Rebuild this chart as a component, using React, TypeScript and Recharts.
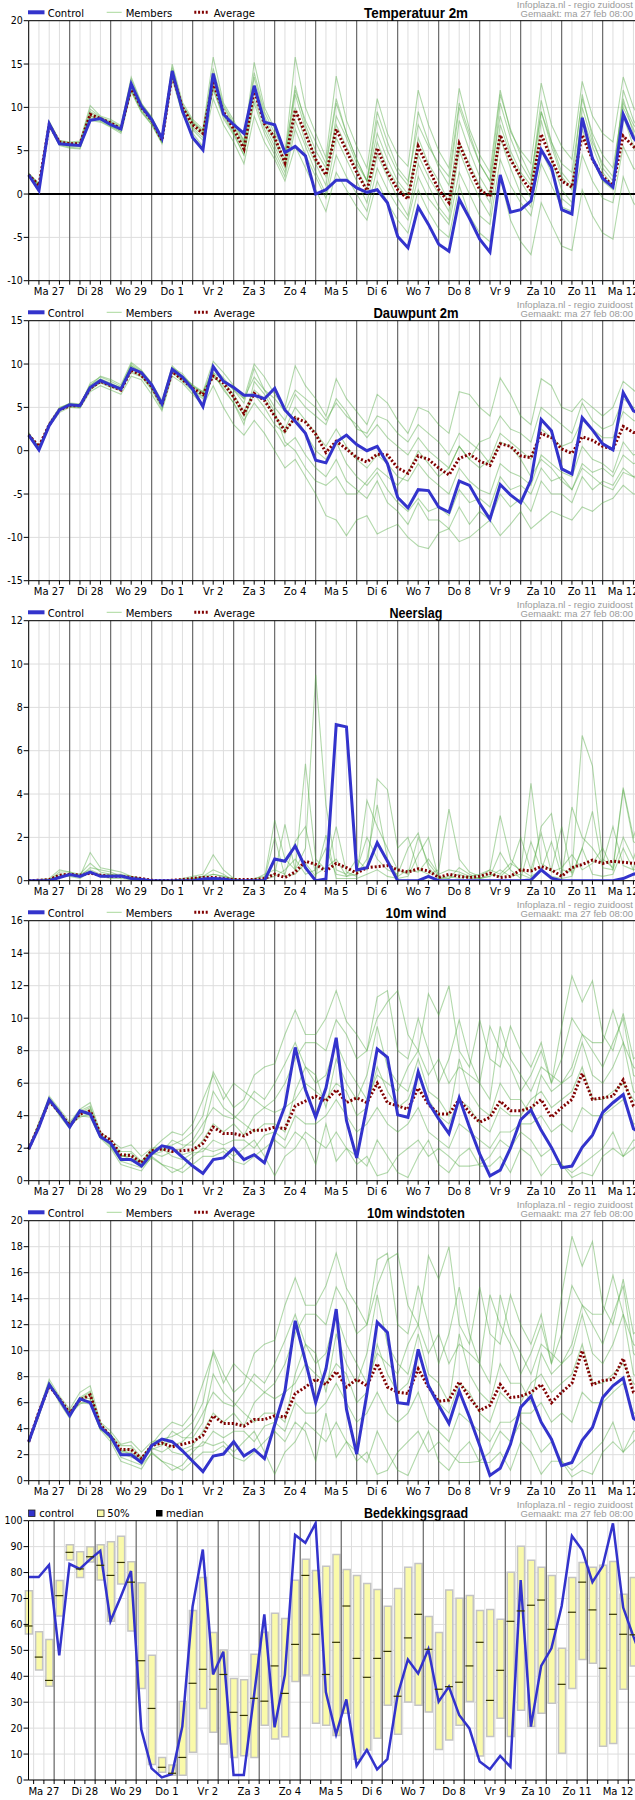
import React from 'react';
import { ComposedChart, Line, Bar, Scatter, XAxis, YAxis, CartesianGrid, ReferenceLine } from 'recharts';

const NARROW = "'Liberation Sans Narrow', 'Arial Narrow', 'DejaVu Sans Condensed', 'Liberation Sans', Arial, sans-serif";
const SANS = "'Liberation Sans', Arial, sans-serif";

// x-as: 6-uurlijkse stappen, 15 dagen
const dayLabels = ['Ma 27', 'Di 28', 'Wo 29', 'Do 1', 'Vr 2', 'Za 3', 'Zo 4', 'Ma 5', 'Di 6', 'Wo 7', 'Do 8', 'Vr 9', 'Za 10', 'Zo 11', 'Ma 12'];

// ---- Temperatuur 2m ----
const tempControl = [2.2,0.4,8.1,5.8, 5.7,5.6,8.5,8.7, 8.0,7.5,12.7,10.1, 8.6,6.4,14.2,9.6, 6.5,5.1,13.9,9.2, 8.0,7.0,12.5,8.3, 8.0,4.8,5.5,4.4, 0.0,0.5,1.6,1.6, 0.7,0.2,0.5,-1.0, -4.9,-6.2,-1.5,-3.5, -5.8,-6.6,-0.6,-2.8, -5.2,-6.7,2.2,-2.1, -1.8,-0.8,5.1,3.1, -1.8,-2.3,8.8,4.1, 1.8,0.8,9.2,6.5, 5.0];
const tempAverage = [2.2,1.0,8.0,6.0, 5.8,5.8,9.2,8.7, 8.2,7.5,12.3,10.0, 8.5,6.2,13.8,10.0, 8.0,7.0,12.8,9.5, 7.5,5.2,12.0,8.1, 6.5,3.6,9.7,7.0, 4.0,2.2,7.5,5.0, 2.5,0.4,5.3,2.5, 0.5,-0.6,5.5,3.0, 0.5,-1.0,5.8,3.0, 0.5,-0.3,6.8,4.0, 2.0,0.4,6.9,4.0, 1.5,0.8,6.8,4.0, 2.0,1.0,6.7,5.5, 4.0];
const tempMembers = [
  [2.4,1.2,8.4,6.2, 6.0,6.1,10.2,9.0, 8.6,7.9,13.5,10.5, 8.8,6.5,15.0,10.6, 8.6,7.5,15.8,10.5, 8.5,6.0,15.2,10.0, 7.5,4.5,15.8,10.0, 7.0,4.2,13.6,8.5, 5.5,3.0,11.0,7.0, 4.5,3.2,12.0,8.0, 5.0,3.0,12.2,7.5, 4.5,2.5,12.0,7.2, 5.0,3.5,12.8,8.0, 5.5,4.0,13.0,9.0, 7.0,6.0,13.5,10.0, 8.0],
  [2.0,0.6,7.8,5.6, 5.3,5.2,8.5,8.3, 7.7,7.0,11.8,9.4, 8.0,5.8,13.2,9.2, 7.0,5.5,11.0,8.0, 6.0,3.5,9.0,6.0, 4.0,1.5,5.5,3.0, 0.5,-2.0,2.5,0.5, -1.5,-3.0,1.5,-1.0, -3.0,-4.5,0.5,-2.0, -4.0,-5.0,1.0,-2.5, -4.5,-5.5,2.0,-3.0, -5.5,-7.0,-1.0,-3.5, -6.0,-6.5,0.5,-2.5, -4.5,-5.2,2.0,-1.0, -2.5],
  [2.3,1.0,8.2,6.0, 5.7,5.6,9.5,8.8, 8.2,7.5,12.5,10.2, 8.7,6.2,14.0,10.0, 8.2,7.0,13.0,9.5, 7.8,5.5,12.5,8.5, 6.0,3.5,11.5,7.5, 4.0,2.0,8.0,5.5, 3.0,0.5,6.0,3.0, 1.0,-0.5,6.5,3.5, 1.5,-1.0,8.5,5.0, 2.0,0.0,10.5,6.5, 3.5,1.5,10.8,6.0, 2.5,1.0,11.5,6.5, 3.0,1.5,10.0,7.5, 5.0],
  [2.1,0.9,7.9,5.8, 5.5,5.5,9.0,8.5, 7.9,7.2,12.0,9.8, 8.3,6.0,13.5,9.8, 7.6,6.5,12.0,9.0, 7.0,4.5,11.0,7.5, 5.0,2.5,8.5,5.5, 2.5,0.0,6.5,4.0, 1.5,-1.0,4.5,2.0, -0.5,-2.5,3.5,1.0, -1.5,-3.0,5.0,2.0, -0.5,-2.5,6.5,3.0, 0.0,-1.5,5.0,2.5, -0.5,-1.5,7.5,4.0, 1.5,0.5,9.0,5.5, 3.0],
  [2.2,1.1,8.1,6.1, 5.9,5.9,9.3,8.7, 8.3,7.7,12.8,10.0, 8.5,6.4,14.3,10.3, 8.4,7.2,14.0,10.0, 8.0,5.8,13.5,9.0, 6.5,4.0,12.5,8.0, 5.0,3.0,10.5,7.0, 4.0,1.5,8.5,5.0, 2.5,1.0,9.5,6.0, 3.0,1.0,10.0,6.5, 3.5,1.5,11.5,7.5, 4.5,2.0,9.5,5.5, 2.0,0.5,9.0,5.5, 2.5,1.0,12.0,8.5, 6.5],
  [2.3,0.8,8.0,5.9, 5.6,5.7,9.0,8.6, 8.0,7.4,12.2,9.6, 8.0,6.0,13.8,9.5, 7.8,6.8,12.5,9.2, 7.2,5.0,12.0,8.0, 5.5,3.0,10.0,6.0, 3.5,1.0,9.0,6.5, 3.5,1.5,7.0,4.0, 1.5,0.0,4.5,2.0, 0.0,-2.0,6.0,3.5, 1.0,-1.0,8.0,4.5, 1.5,-0.5,8.5,4.0, 0.5,-1.0,10.0,6.0, 3.5,2.0,11.0,7.0, 4.0],
  [2.4,1.1,8.3,6.1, 5.8,6.0,9.8,8.9, 8.4,7.8,13.2,10.4, 8.9,6.6,14.6,10.2, 8.3,7.3,14.5,10.2, 8.2,6.2,14.0,9.5, 7.0,4.8,12.0,8.5, 6.0,3.5,11.0,7.0, 4.0,1.5,9.5,6.0, 3.0,1.5,8.0,5.5, 3.5,2.0,10.5,7.0, 3.5,1.5,9.0,5.0, 2.5,1.0,9.5,6.0, 3.5,2.5,11.0,7.0, 4.5,3.0,10.5,8.0, 6.5],
  [2.1,0.7,7.9,5.7, 5.4,5.3,8.8,8.4, 7.8,7.2,11.9,9.5, 8.2,6.0,13.6,9.3, 7.4,6.2,12.2,8.7, 6.8,4.5,10.5,7.0, 4.5,2.0,7.5,4.5, 2.0,-0.5,4.5,2.0, 0.0,-2.0,3.0,0.5, -1.5,-3.0,2.0,-0.5, -2.0,-3.5,2.5,0.0, -2.5,-3.5,4.0,1.0, -1.0,-2.5,3.5,1.0, -1.5,-2.0,4.5,1.5, -0.5,-1.0,5.5,3.0, 2.0],
];

// ---- Dauwpunt 2m ----
const dewControl = [1.8,0.1,2.9,4.7, 5.3,5.2,7.3,8.1, 7.6,7.1,9.5,9.0, 7.6,5.4,9.4,8.5, 7.1,5.1,9.7,8.0, 7.3,6.4,6.4,6.0, 7.2,4.7,3.4,2.0, -1.1,-1.4,1.0,1.8, 0.7,0.0,0.5,-1.5, -5.4,-6.6,-4.5,-4.6, -6.5,-7.1,-3.5,-4.0, -6.1,-7.9,-3.9,-5.1, -6.0,-3.4,3.6,2.3, -2.1,-2.7,3.8,2.4, 0.8,0.1,6.7,4.6, 4.0];
const dewAverage = [1.8,0.5,3.0,4.7, 5.2,5.2,7.2,8.0, 7.5,7.0,9.3,8.7, 7.4,5.3,9.1,8.2, 7.2,6.5,8.6,7.8, 6.2,4.3,6.6,5.8, 4.0,2.3,3.8,3.3, 1.9,-0.2,1.1,0.2, -0.8,-1.3,-0.4,-0.5, -2.0,-2.6,-0.6,-1.0, -2.0,-2.8,-0.9,-0.4, -1.2,-1.7,0.8,0.5, -0.6,-0.8,2.0,1.5, 0.2,-0.3,1.6,1.2, 0.5,0.2,2.8,2.1, 2.0];
const dewMembers = [
  [2.1,0.3,3.0,4.9, 5.5,5.4,7.5,8.6, 8.2,7.6,10.2,9.3, 7.8,5.8,9.8,8.6, 7.6,6.8,10.3,9.0, 7.5,6.0,10.0,8.5, 6.5,5.0,9.8,7.5, 6.0,4.0,8.3,6.0, 4.5,3.0,6.5,5.5, 3.5,2.0,5.0,4.5, 3.0,2.0,6.8,6.5, 5.0,4.0,8.4,6.5, 4.0,3.0,8.3,7.5, 5.0,4.5,6.0,5.0, 4.0,5.0,8.0,7.0, 6.0],
  [1.7,0.0,2.8,4.4, 5.0,4.9,6.8,7.5, 7.0,6.5,8.6,8.2, 6.5,4.6,8.6,7.8, 6.5,5.2,7.5,5.0, 3.0,1.8,3.5,2.0, 0.0,-2.0,-1.0,-3.0, -5.0,-7.5,-8.0,-9.8, -8.0,-7.5,-9.6,-9.0, -8.5,-10.0,-11.0,-11.3, -9.5,-9.0,-10.5,-10.0, -9.0,-8.0,-9.8,-8.5, -7.0,-9.0,-8.0,-7.0, -7.5,-8.0,-6.5,-7.0, -6.0,-5.5,-4.0,-5.0, -5.0],
  [1.9,0.4,3.1,4.8, 5.3,5.3,7.6,8.3, 7.8,7.2,9.8,9.0, 7.7,5.6,9.6,8.9, 7.4,6.8,9.4,8.0, 6.5,4.5,7.0,6.0, 4.0,2.5,5.0,3.5, 2.0,0.5,2.5,0.5, -1.0,-2.0,-0.5,-1.5, -3.0,-3.5,-1.5,-3.0, -4.0,-5.0,-2.0,-3.5, -4.5,-5.0,-1.5,-2.5, -3.0,-4.0,-0.5,-1.5, -2.5,-3.0,0.5,-1.0, -1.5,-2.5,1.0,-0.5, 0.0],
  [2.0,0.2,2.9,4.6, 5.2,5.1,7.2,8.0, 7.4,7.0,9.4,8.8, 7.2,5.2,9.2,8.4, 7.0,6.2,8.8,7.2, 5.5,3.0,8.0,6.5, 4.5,1.0,0.0,-2.0, -3.5,-4.0,-3.0,-5.0, -5.0,-3.5,-2.0,-3.0, -4.0,-2.5,0.0,-1.5, -3.0,-2.0,0.5,-1.0, -2.0,-1.0,2.0,1.0, 0.0,-1.0,2.5,1.5, 0.5,1.0,3.5,2.5, 1.5,1.5,4.5,3.5, 3.0],
  [1.8,0.5,3.2,5.0, 5.4,5.2,7.8,8.5, 8.0,7.4,10.0,9.2, 7.6,5.4,9.3,8.2, 7.3,6.5,9.6,8.4, 7.0,5.5,9.5,7.0, 5.0,3.5,6.5,5.0, 4.0,3.0,6.0,4.5, 2.5,2.0,4.0,3.5, 2.0,1.0,3.0,2.0, 1.0,-0.5,2.0,1.0, 0.0,-1.5,1.0,0.5, -1.0,-3.0,-1.0,-2.0, -3.5,-4.5,-2.0,-3.0, -4.0,-4.5,-2.5,-3.0, -4.0],
  [1.9,0.3,3.0,4.7, 5.1,5.0,7.0,7.9, 7.5,7.3,9.0,8.5, 7.0,4.8,9.0,8.0, 6.8,6.0,8.5,7.5, 6.0,4.0,6.5,5.0, 3.0,2.0,4.0,2.0, 0.0,-1.0,1.0,-1.5, -3.0,-4.0,-2.5,-4.5, -6.0,-7.0,-5.5,-7.0, -6.5,-7.5,-4.5,-6.0, -5.5,-6.5,-3.0,-4.5, -4.0,-5.0,-2.0,-3.5, -3.0,-4.5,-1.5,-2.5, -2.0,-3.0,-0.5,-1.5, -1.0],
  [2.0,0.4,3.1,4.8, 5.4,5.3,7.4,8.2, 7.7,7.3,9.8,9.1, 7.5,5.5,9.5,8.6, 7.5,6.6,9.0,7.0, 5.5,3.5,5.5,4.0, 2.5,0.5,1.5,-0.5, -2.0,-3.0,-1.0,-3.5, -4.5,-5.5,-3.5,-6.0, -7.0,-8.5,-6.0,-8.0, -8.0,-9.0,-6.5,-8.5, -7.0,-8.0,-5.0,-6.5, -5.5,-7.0,-3.5,-5.0, -5.0,-6.0,-3.0,-4.5, -3.5,-4.0,-2.0,-3.0, -2.5],
  [1.8,0.2,2.9,4.6, 5.2,5.0,7.1,7.8, 7.3,6.9,9.2,8.6, 7.2,5.0,9.1,8.2, 7.0,6.3,9.0,8.2, 7.0,6.0,8.5,7.0, 6.0,4.5,7.0,6.0, 5.0,3.5,5.5,4.0, 3.0,1.5,3.0,1.5, 0.5,-0.5,1.5,0.0, -1.0,-2.0,0.5,-1.0, 1.0,1.5,4.0,2.5, 2.0,1.0,5.0,4.0, 3.0,2.0,5.5,3.5, 2.5,3.0,6.0,5.0, 4.5],
];

// ---- Neerslag ----
const rainControl = [0,0,0,0.15, 0.28,0.2,0.4,0.2, 0.2,0.22,0.1,0.06, 0,0,0,0, 0,0.08,0.1,0.08, 0,0,0,0, 1.0,0.9,1.6,0.6, 0,0.08,7.2,7.1, 0.5,0.6,1.75,0.9, 0,0,0,0.2, 0,0,0,0, 0,0,0,0, 0,0.03,0.5,0.12, 0,0,0,0, 0,0,0.1,0.3, 0.4];
const rainAverage = [0,0.02,0.05,0.25, 0.3,0.25,0.35,0.25, 0.2,0.2,0.15,0.1, 0.02,0,0.02,0.05, 0.1,0.15,0.15,0.1, 0.05,0.05,0.05,0.1, 0.3,0.15,0.4,0.9, 0.75,0.45,0.8,0.6, 0.35,0.6,0.65,0.7, 0.5,0.4,0.55,0.45, 0.15,0.3,0.2,0.15, 0.2,0.35,0.15,0.2, 0.5,0.45,0.65,0.5, 0.2,0.6,0.75,0.95, 0.8,0.9,0.85,0.8, 0.8];
const rainMembers = [
  [0,0.05,0.1,0.5, 0.4,0.3,0.8,0.4, 0.3,0.2,0.1,0.05, 0,0,0,0.05, 0.1,0.2,0.3,0.2, 0.05,0,0,0.1, 2.8,1.0,0.5,5.4, 1.0,0.5,2.5,0.4, 0.2,3.7,2.5,1.5, 0.5,0.3,2.0,0.8, 0.2,0.1,0.3,0.1, 0.1,0.2,0.5,0.2, 0.3,0.1,2.5,3.1, 0.5,0.4,6.7,5.3, 1.0,0.6,4.3,2.0, 3.5],
  [0,0.02,0.05,0.3, 0.3,0.2,1.3,0.6, 0.5,0.4,0.2,0.1, 0,0,0,0.1, 0.2,0.3,1.2,0.5, 0.1,0,0.1,0.2, 0.3,2.6,0.5,1.5, 9.5,3.5,0.5,0.3, 1.0,0.5,4.7,4.2, 1.5,2.0,0.5,0.3, 0.5,3.3,1.0,0.4, 0.2,0.5,3.0,1.0, 0.4,4.5,0.8,0.5, 2.5,0.3,1.5,3.2, 0.6,0.5,2.0,1.0, 2.5],
  [0,0,0.05,0.2, 0.3,0.3,0.5,0.3, 0.3,0.3,0.2,0.1, 0,0,0,0.05, 0.1,0.1,0.3,0.2, 0.1,0,0,0.05, 0.2,0.5,1.0,0.3, 0.5,1.5,0.3,0.2, 0.5,2.0,1.0,0.5, 0.3,1.5,2.2,0.6, 0.1,0.2,0.1,0.2, 0.1,0.3,0.2,0.6, 2.0,0.5,2.2,0.4, 0.6,1.2,0.5,0.8, 1.5,0.5,4.2,1.8, 1.5],
  [0,0,0.03,0.4, 0.4,0.2,0.6,0.5, 0.4,0.2,0.1,0.05, 0,0,0,0, 0.1,0.2,0.5,0.3, 0,0,0.05,0.3, 0.5,0.3,1.8,2.5, 0.3,0.6,1.0,0.2, 0.3,1.0,3.5,1.0, 0.2,0.5,0.4,1.0, 0.3,0.5,0.4,0.2, 0.3,0.5,0.3,0.8, 0.5,0.2,0.5,1.8, 0.2,3.4,2.0,1.5, 0.8,2.5,0.7,0.5, 0.6],
  [0,0,0.05,0.2, 0.2,0.1,0.4,0.2, 0.1,0.1,0.05,0, 0,0,0,0, 0,0.1,0.1,0.1, 0,0,0,0.05, 2.0,0.2,0.3,0.8, 0.2,2.1,0.1,0.1, 0.1,0.3,0.5,0.2, 0.1,0.2,1.2,2.0, 0.1,0.1,0.6,0.3, 0.1,0.2,1.3,0.5, 0.1,1.8,0.5,0.2, 0.1,0.2,1.5,0.3, 0.2,0.3,1.5,0.5, 2.6],
];

// ---- 10m wind ----
const windControl = [1.95,3.3,5.0,4.2, 3.3,4.3,4.1,2.7, 2.3,1.3,1.3,0.9, 1.65,2.15,2.0,1.45, 0.9,0.45,1.3,1.4, 2.0,1.3,1.6,1.1, 2.9,4.6,8.2,5.6, 3.9,5.7,8.8,3.7, 1.4,4.6,8.1,7.6, 4.05,3.9,6.7,4.8, 3.8,2.9,5.1,3.3, 1.65,0.3,0.65,2.0, 3.75,4.35,3.1,2.05, 0.8,0.9,2.05,2.8, 4.2,4.8,5.3,3.2, 2.8];
const windAverage = [1.95,3.4,4.9,4.2, 3.4,4.1,4.3,2.9, 2.5,1.6,1.55,1.1, 1.85,1.95,1.8,1.85, 1.9,2.3,3.3,2.9, 2.9,2.75,3.1,3.1, 3.3,3.2,4.6,4.9, 5.2,4.9,5.6,4.8, 5.1,4.8,6.0,4.8, 4.6,4.4,5.7,4.7, 4.1,4.1,5.0,4.2, 3.6,3.9,4.9,4.3, 4.3,4.5,5.0,3.9, 4.5,5.0,6.6,5.0, 5.1,5.2,6.2,4.6, 4.4];
const windMembers = [
  [2.0,3.5,5.2,4.4, 3.6,4.4,4.8,3.0, 2.5,2.0,2.2,1.5, 2.0,2.1,2.2,2.5, 3.0,4.0,6.7,5.5, 4.5,5.0,6.5,7.0, 7.2,9.0,10.5,9.0, 9.0,10.0,11.7,9.8, 9.0,8.0,10.0,11.0, 11.7,9.0,8.0,11.5, 10.2,12.0,8.0,7.0, 9.9,7.5,7.0,9.5, 8.0,7.0,8.5,6.0, 9.5,12.6,11.0,12.3, 9.0,8.0,10.3,7.5, 8.0],
  [1.9,3.3,4.9,4.1, 3.4,4.0,3.9,2.6, 2.0,1.0,0.8,0.6, 1.5,1.0,0.8,0.5, 1.0,1.5,1.5,1.8, 1.2,1.0,1.5,2.0, 2.5,2.0,3.0,2.5, 1.0,3.5,1.2,2.0, 1.5,0.9,2.5,1.5, 0.5,0.2,1.5,2.5, 1.0,0.5,1.5,2.0, 0.9,0.9,1.5,0.5, 2.0,1.5,0.3,1.0, 1.0,0.2,0.5,0.3, 1.5,2.0,1.5,2.5, 2.5],
  [2.0,3.4,5.0,4.2, 3.5,4.2,4.5,2.8, 2.2,1.5,1.5,1.0, 1.8,1.9,2.0,1.6, 1.8,2.5,3.5,3.0, 3.5,2.8,4.0,4.5, 4.2,4.5,5.0,6.0, 5.5,5.0,6.0,5.5, 4.0,4.5,7.0,5.5, 4.5,5.0,6.5,5.0, 4.0,3.5,5.0,4.5, 3.5,3.0,4.5,4.0, 4.0,5.0,5.5,4.5, 5.0,5.5,7.0,5.0, 5.0,5.5,6.0,5.0, 4.5],
  [1.9,3.4,5.1,4.3, 3.3,4.1,4.4,2.9, 2.3,1.8,1.8,1.2, 1.7,1.5,1.8,2.0, 2.5,3.5,4.5,4.0, 3.8,4.5,5.5,5.0, 6.0,7.2,8.5,7.0, 6.0,6.5,8.5,7.0, 6.0,5.0,6.5,6.0, 5.5,7.0,8.0,6.5, 7.5,6.0,7.0,6.5, 6.0,5.0,9.5,7.5, 6.5,5.5,7.0,6.5, 6.0,7.0,9.0,8.0, 7.0,8.5,10.0,6.5, 6.0],
  [2.0,3.6,5.0,4.0, 3.2,4.3,4.2,2.7, 2.1,1.2,1.0,0.8, 1.4,1.0,0.5,0.8, 1.5,2.0,1.8,2.0, 1.5,2.0,2.5,1.5, 0.3,1.5,2.0,3.0, 2.5,2.0,3.0,2.0, 1.0,1.5,0.3,0.5, 1.5,2.0,2.5,1.5, 2.0,1.5,0.9,0.9, 1.0,1.5,2.5,2.0, 3.0,2.5,1.5,2.0, 1.0,0.5,1.0,1.5, 2.0,3.0,1.5,2.0, 2.5],
  [2.0,3.5,4.9,4.2, 3.4,4.2,4.0,2.6, 2.4,1.6,1.3,1.2, 1.9,2.5,3.0,2.8, 3.5,5.0,6.5,5.0, 6.0,5.5,5.0,4.5, 5.0,6.0,7.5,8.5, 8.5,8.0,9.9,9.0, 7.5,8.0,11.3,11.7, 8.0,7.5,10.0,8.0, 6.0,7.5,9.9,7.5, 6.0,9.5,8.0,7.0, 5.5,6.5,8.0,6.0, 7.5,10.0,9.0,8.5, 8.5,10.5,8.5,7.0, 6.5],
  [1.9,3.4,5.0,4.1, 3.5,4.3,4.6,2.8, 2.2,1.4,1.2,1.0, 1.6,1.8,2.5,2.2, 2.2,3.0,5.5,4.5, 4.0,3.5,3.0,3.5, 3.5,3.0,5.5,7.0, 6.5,4.5,7.5,6.0, 5.0,6.5,9.5,7.0, 6.0,5.5,7.5,5.5, 5.0,4.0,7.5,5.5, 4.5,4.0,6.0,5.0, 5.0,4.0,6.5,5.5, 6.0,6.5,8.5,6.5, 6.0,7.0,8.5,5.5, 5.0],
  [2.0,3.3,4.8,4.2, 3.4,3.9,4.1,2.8, 2.3,1.5,1.7,1.1, 1.9,2.0,1.5,1.3, 1.7,1.8,2.5,2.2, 2.5,2.5,2.0,2.8, 3.0,2.5,4.0,3.5, 3.5,4.0,5.0,4.0, 3.0,3.5,4.5,3.5, 3.0,3.5,4.5,3.0, 2.5,2.0,3.5,3.0, 2.5,2.0,3.0,3.0, 3.5,3.5,4.0,3.0, 3.5,3.0,4.5,4.0, 4.0,4.5,5.0,3.5, 3.5],
];

// ---- 10m windstoten ----
const gustControl = [3.0,5.2,7.4,6.25, 5.0,6.3,6.0,4.1, 3.4,2.0,2.0,1.4, 2.7,3.2,3.0,2.3, 1.5,0.7,1.9,2.05, 3.0,1.9,2.4,1.7, 4.3,6.9,12.3,9.2, 6.0,8.6,13.2,5.5, 2.05,6.7,12.2,11.4, 6.0,5.9,10.1,7.3, 5.8,4.4,6.9,4.9, 2.7,0.4,0.95,2.8, 5.65,6.5,4.5,3.2, 1.15,1.4,3.1,4.1, 6.4,7.3,7.9,4.8, 4.2];
const gustAverage = [3.0,5.3,7.3,6.3, 5.2,6.2,6.6,4.3, 3.4,2.4,2.4,1.7, 2.7,2.9,2.6,2.8, 3.0,3.5,5.0,4.4, 4.4,4.2,4.7,4.7, 5.0,4.9,6.7,7.2, 7.8,7.4,8.4,7.2, 7.8,7.3,9.0,7.2, 6.8,6.7,8.6,7.2, 6.1,6.2,7.6,6.4, 5.4,5.8,7.4,6.4, 6.5,6.8,7.4,6.0, 6.8,7.5,10.0,7.4, 7.7,7.8,9.4,6.8, 6.5];
const gustMembers = [
  [3.0,5.4,7.8,6.5, 5.5,6.8,7.3,4.5, 3.8,2.8,3.0,2.2, 3.0,3.2,3.4,3.8, 4.5,6.0,10.0,8.2, 6.8,7.5,9.8,10.5, 10.8,13.5,15.6,13.5, 13.5,15.0,17.5,14.8, 13.5,12.0,15.0,17.0, 17.5,13.5,12.0,17.3, 15.5,18.0,12.0,10.5, 14.9,11.3,10.5,14.3, 12.0,10.5,12.8,9.0, 14.3,18.8,16.5,18.4, 13.5,12.0,15.5,11.3, 12.0],
  [2.9,5.0,7.4,6.2, 5.1,6.0,5.9,3.9, 3.0,1.5,1.2,0.9, 2.2,1.5,1.2,0.8, 1.5,2.2,2.2,2.7, 1.8,1.5,2.2,3.0, 3.8,3.0,4.5,3.8, 1.5,5.2,1.8,3.0, 2.2,1.4,3.8,2.2, 0.8,0.4,2.2,3.8, 1.5,0.8,2.2,3.0, 1.4,1.4,2.2,0.8, 3.0,2.2,0.5,1.5, 1.5,0.3,0.8,0.5, 2.2,3.0,2.2,3.8, 3.8],
  [3.0,5.1,7.5,6.3, 5.3,6.3,6.8,4.2, 3.3,2.2,2.2,1.5, 2.7,2.8,3.0,2.4, 2.7,3.8,5.2,4.5, 5.2,4.2,6.0,6.8, 6.3,6.8,7.5,9.0, 8.2,7.5,9.0,8.2, 6.0,6.8,10.5,8.2, 6.8,7.5,9.8,7.5, 6.0,5.2,7.5,6.8, 5.2,4.5,6.8,6.0, 6.0,7.5,8.2,6.8, 7.5,8.2,10.5,7.5, 7.5,8.2,9.0,7.5, 6.8],
  [2.9,5.2,7.6,6.4, 5.0,6.2,6.6,4.4, 3.5,2.7,2.7,1.8, 2.5,2.2,2.7,3.0, 3.8,5.2,6.8,6.0, 5.7,6.8,8.2,7.5, 9.0,10.8,12.8,10.5, 9.0,9.8,12.8,10.5, 9.0,7.5,9.8,9.0, 8.2,10.5,12.0,9.8, 11.3,9.0,10.5,9.8, 9.0,7.5,14.3,11.3, 9.8,8.2,10.5,9.8, 9.0,10.5,13.5,12.0, 10.5,12.8,15.0,9.8, 9.0],
  [3.0,5.4,7.5,6.0, 4.8,6.4,6.3,4.0, 3.2,1.8,1.5,1.2, 2.1,1.5,0.8,1.2, 2.2,3.0,2.7,3.0, 2.2,3.0,3.8,2.2, 0.5,2.2,3.0,4.5, 3.8,3.0,4.5,3.0, 1.5,2.2,0.5,0.8, 2.2,3.0,3.8,2.2, 3.0,2.2,1.4,1.4, 1.5,2.2,3.8,3.0, 4.5,3.8,2.2,3.0, 1.5,0.8,1.5,2.2, 3.0,4.5,2.2,3.0, 3.8],
  [3.0,5.2,7.3,6.3, 5.1,6.3,6.0,3.9, 3.6,2.4,2.0,1.8, 2.8,3.8,4.5,4.2, 5.2,7.5,9.8,7.5, 9.0,8.2,7.5,6.8, 7.5,9.0,11.3,12.8, 12.8,12.0,14.9,13.5, 11.3,12.0,17.0,17.5, 12.0,11.3,15.0,12.0, 9.0,11.3,14.9,11.3, 9.0,14.3,12.0,10.5, 8.2,9.8,12.0,9.0, 11.3,15.0,13.5,12.8, 12.8,15.8,12.8,10.5, 9.8],
  [2.9,5.1,7.5,6.2, 5.3,6.4,6.9,4.2, 3.3,2.1,1.8,1.5, 2.4,2.7,3.8,3.3, 3.3,4.5,8.2,6.8, 6.0,5.2,4.5,5.2, 5.2,4.5,8.2,10.5, 9.8,6.8,11.3,9.0, 7.5,9.8,14.3,10.5, 9.0,8.2,11.3,8.2, 7.5,6.0,11.3,8.2, 6.8,6.0,9.0,7.5, 7.5,6.0,9.8,8.2, 9.0,9.8,12.8,9.8, 9.0,10.5,12.8,8.2, 7.5],
  [3.0,5.0,7.2,6.3, 5.1,5.9,6.2,4.2, 3.4,2.2,2.5,1.6, 2.8,3.0,2.2,2.0, 2.5,2.7,3.8,3.3, 3.8,3.8,3.0,4.2, 4.5,3.8,6.0,5.2, 5.2,6.0,7.5,6.0, 4.5,5.2,6.8,5.2, 4.5,5.2,6.8,4.5, 3.8,3.0,5.2,4.5, 3.8,3.0,4.5,4.5, 5.2,5.2,6.0,4.5, 5.2,4.5,6.8,6.0, 6.0,6.8,7.5,5.2, 5.2],
];

// ---- Bedekkingsgraad (per 6 uur) ----
const cloudHigh = [73.0,57.2,54.2,76.9, 90.7,88.0,90.0,90.7, 91.9,94.0,84.2,76.1, 48.1,8.7,5.8,30.3, 65.4,78.1,56.9,50.1, 39.1,38.7,48.5,57.0, 64.3,62.3,77.0,85.1, 80.8,82.4,87.0,81.2, 78.9,75.8,73.5,67.0, 73.9,82.0,83.5,63.1, 56.9,73.3,70.1,71.2, 65.4,65.8,62.0,80.1, 90.1,84.7,82.0,78.9, 50.8,78.1,83.9,82.0, 82.8,84.3,71.6,78.1];
const cloudLow = [56.3,42.4,36.2,63.2, 84.8,78.1,84.1,77.1, 61.2,75.6,57.5,35.3, 6.0,3.0,1.8,1.8, 10.7,27.6,18.4,13.9, 8.7,9.4,8.7,21.1, 15.8,16.7,38.0,40.5, 21.9,21.1,17.2,25.7, 8.0,11.6,16.1,28.8, 17.6,30.1,28.8,26.2, 11.8,15.4,21.1,30.3, 9.3,16.8,23.8,16.8, 26.9,20.6,25.7,29.6, 10.3,35.3,46.5,45.0, 13.0,14.1,35.0,44.0];
const cloudMedian = [59.4,47.4,38.4,71.1, 87.8,81.4,86.1,82.8, 78.9,83.9,76.3,46.0, 27.6,4.9,2.6,8.7, 37.3,42.7,35.0,40.7, 26.1,24.9,31.5,30.4, 44.0,33.4,52.3,78.9, 56.2,40.7,53.1,67.1, 46.9,39.6,46.9,49.6, 32.3,54.8,63.9,50.4, 35.0,36.0,37.7,44.0, 53.1,30.7,42.3,61.2, 65.2,67.4,69.4,58.1, 36.9,64.7,76.3,65.6, 43.1,63.9,56.2,56.0];
const cloudControl = [78.3,78.3,82.9,48.1, 83.3,81.4,85.1,88.4, 61.3,70.7,80.6,19.5, 4.5,1.0,2.3,20.6, 66.8,88.9,40.7,49.5, 1.9,1.9,32.7,63.9, 20.3,40.5,94.5,91.5, 99.0,33.9,17.6,31.1, 5.5,11.6,4.1,8.0, 32.8,46.5,41.1,50.4, 30.2,36.0,25.1,19.9, 7.1,4.1,9.3,5.1, 77.1,20.6,44.0,50.8, 67.1,94.1,88.7,76.3, 82.5,99.0,66.5,55.3, 45.0];

// tick posities
const hourTicks = Array.from({ length: 61 }, (_, i) => i);
const dayLines = Array.from({ length: 14 }, (_, j) => 4 * (j + 1));
const cloudTicks = Array.from({ length: 60 }, (_, i) => i + 0.5);
const cloudDayLines = Array.from({ length: 15 }, (_, j) => 4 * j + 2.5);

const BLUE = '#3333cc';
const MEMBER = '#55aa44';

const DayTick = (props: any) => {
  const { x, y, payload, offset } = props;
  const j = (payload.value - offset) / 4;
  if (!Number.isInteger(j) || j < 0 || j >= dayLabels.length) return <g />;
  return (
    <text x={x} y={y} dy={9.6} textAnchor="middle" fontSize={11.2} fontFamily={NARROW} fill="#000">
      {dayLabels[j]}
    </text>
  );
};

const InfoText = () => (
  <>
    <text x={633} y={8} textAnchor="end" fontSize={9.5} fontFamily={SANS} fill="#9a9a9a">Infoplaza.nl - regio zuidoost</text>
    <text x={633} y={17} textAnchor="end" fontSize={9.5} fontFamily={SANS} fill="#9a9a9a">Gemaakt: ma 27 feb 08:00</text>
  </>
);

const Title = ({ text, width }: { text: string; width: number }) => (
  <text x={416} y={18} textAnchor="middle" fontSize={15} fontWeight="bold" fontFamily={SANS} fill="#000"
    textLength={width} lengthAdjust="spacingAndGlyphs">{text}</text>
);

const Header = ({ title, titleWidth }: { title: string; titleWidth: number }) => (
  <svg width={635} height={22} style={{ position: 'absolute', left: 0, top: 0 }}>
    <line x1={28} x2={44.5} y1={12.3} y2={12.3} stroke={BLUE} strokeWidth={4} />
    <text x={47.7} y={17} fontSize={11.2} fontFamily={NARROW} fill="#000">Control</text>
    <line x1={106.7} x2={121.7} y1={12.3} y2={12.3} stroke="#a9d99b" strokeWidth={1} />
    <text x={125.7} y={17} fontSize={11.2} fontFamily={NARROW} fill="#000">Members</text>
    <line x1={194.3} x2={209} y1={12.3} y2={12.3} stroke="#800000" strokeWidth={3} strokeDasharray="2 1.8" />
    <text x={213.8} y={17} fontSize={11.2} fontFamily={NARROW} fill="#000">Average</text>
    <Title text={title} width={titleWidth} />
    <InfoText />
  </svg>
);

const CloudHeader = () => (
  <svg width={635} height={22} style={{ position: 'absolute', left: 0, top: 0 }}>
    <rect x={28.5} y={10} width={6.5} height={6.5} fill={BLUE} stroke="#222" strokeWidth={0.8} />
    <text x={39.3} y={17} fontSize={11.2} fontFamily={NARROW} fill="#000">control</text>
    <rect x={97.5} y={10} width={6.5} height={6.5} fill="#fafaaa" stroke="#222" strokeWidth={0.8} />
    <text x={107.3} y={17} fontSize={11.2} fontFamily={NARROW} fill="#000">50%</text>
    <rect x={156} y={10} width={6.5} height={6.5} fill="#000" />
    <text x={166} y={17} fontSize={11.2} fontFamily={NARROW} fill="#000">median</text>
    <Title text="Bedekkingsgraad" width={104} />
    <InfoText />
  </svg>
);

interface PanelProps {
  top: number;
  title: string;
  titleWidth: number;
  domain: [number, number];
  yTicks: number[];
  control: number[];
  average: number[];
  members: number[][];
  zeroLine?: boolean;
}

const EnsemblePanel = ({ top, title, titleWidth, domain, yTicks, control, average, members, zeroLine }: PanelProps) => {
  const rows = control.map((c, i) => {
    const r: any = { i, control: c, average: average[i] };
    members.forEach((m, k) => { r['m' + k] = m[i]; });
    return r;
  });
  return (
    <div style={{ position: 'absolute', left: 0, top, width: 660, height: 300 }}>
      <ComposedChart width={660} height={300} data={rows} margin={{ top: 20.7, right: 16.3, bottom: 0, left: 0 }}>
        <CartesianGrid stroke="#dddddd" />
        <XAxis
          type="number" dataKey="i" domain={[0, 60]} ticks={hourTicks} interval={0}
          height={19.3} tickSize={4} tickMargin={1}
          axisLine={{ stroke: '#000' }} tickLine={{ stroke: '#000' }}
          tick={(p: any) => <DayTick {...p} offset={2} />}
        />
        <YAxis
          type="number" domain={domain} ticks={yTicks} interval={0} width={28.7}
          tickSize={5} tickMargin={1} allowDataOverflow
          axisLine={{ stroke: '#000' }} tickLine={{ stroke: '#000' }}
          tick={{ fontSize: 10.5, fontFamily: NARROW, fill: '#000' }}
        />
        {dayLines.map((d) => <ReferenceLine key={d} x={d} stroke="#555" />)}
        <ReferenceLine y={domain[1]} stroke="#000" />
        {zeroLine && <ReferenceLine y={0} stroke="#000" strokeWidth={2} />}
        {members.map((_, k) => (
          <Line key={k} type="linear" dataKey={'m' + k} stroke={MEMBER} strokeOpacity={0.45} strokeWidth={1.1}
            dot={false} activeDot={false} isAnimationActive={false} />
        ))}
        <Line type="linear" dataKey="average" stroke="#800000" strokeWidth={3} strokeDasharray="2 2"
          dot={false} activeDot={false} isAnimationActive={false} />
        <Line type="linear" dataKey="control" stroke={BLUE} strokeWidth={3}
          dot={false} activeDot={false} isAnimationActive={false} />
      </ComposedChart>
      <Header title={title} titleWidth={titleWidth} />
    </div>
  );
};

const MedianMark = (props: any) => {
  const { cx, cy } = props;
  if (cx == null || cy == null) return <g />;
  return <line x1={cx - 4} x2={cx + 4} y1={cy} y2={cy} stroke="#333300" strokeWidth={1.2} />;
};

const CloudPanel = ({ top }: { top: number }) => {
  const rows = cloudControl.map((c, i) => ({
    i,
    control: c,
    range: cloudHigh[i] !== undefined ? [cloudLow[i], cloudHigh[i]] : undefined,
    median: cloudMedian[i],
  }));
  return (
    <div style={{ position: 'absolute', left: 0, top, width: 660, height: 300 }}>
      <ComposedChart width={660} height={300} data={rows} margin={{ top: 20.7, right: 16.3, bottom: 0, left: 0 }}>
        <CartesianGrid stroke="#dddddd" />
        <XAxis
          type="number" dataKey="i" domain={[0, 60]} ticks={cloudTicks} interval={0}
          height={20} tickSize={4} tickMargin={1}
          axisLine={{ stroke: '#000' }} tickLine={{ stroke: '#000' }}
          tick={(p: any) => <DayTick {...p} offset={1.5} />}
        />
        <YAxis
          type="number" domain={[0, 100]} ticks={[0, 10, 20, 30, 40, 50, 60, 70, 80, 90, 100]} interval={0} width={28.5}
          tickSize={5} tickMargin={1} allowDataOverflow
          axisLine={{ stroke: '#000' }} tickLine={{ stroke: '#000' }}
          tick={{ fontSize: 10.5, fontFamily: NARROW, fill: '#000' }}
        />
        {cloudDayLines.map((d) => <ReferenceLine key={d} x={d} stroke="#555" />)}
        <ReferenceLine y={100} stroke="#000" />
        <Bar dataKey="range" barSize={7} fill="#fafaaa" stroke="#c4c4c4" strokeWidth={1.5} isAnimationActive={false} />
        <Scatter dataKey="median" shape={<MedianMark />} isAnimationActive={false} />
        <Line type="linear" dataKey="control" stroke={BLUE} strokeWidth={2.5}
          dot={false} activeDot={false} isAnimationActive={false} />
      </ComposedChart>
      <CloudHeader />
    </div>
  );
};

export default function App() {
  return (
    <div style={{ position: 'absolute', left: 0, top: 0, width: 635, height: 1800, overflow: 'hidden', background: '#fff' }}>
      <EnsemblePanel top={0} title="Temperatuur 2m" titleWidth={104} domain={[-10, 20]} yTicks={[-10, -5, 0, 5, 10, 15, 20]}
        control={tempControl} average={tempAverage} members={tempMembers} zeroLine />
      <EnsemblePanel top={300} title="Dauwpunt 2m" titleWidth={85} domain={[-15, 15]} yTicks={[-15, -10, -5, 0, 5, 10, 15]}
        control={dewControl} average={dewAverage} members={dewMembers} />
      <EnsemblePanel top={600} title="Neerslag" titleWidth={53} domain={[0, 12]} yTicks={[0, 2, 4, 6, 8, 10, 12]}
        control={rainControl} average={rainAverage} members={rainMembers} />
      <EnsemblePanel top={900} title="10m wind" titleWidth={61} domain={[0, 16]} yTicks={[0, 2, 4, 6, 8, 10, 12, 14, 16]}
        control={windControl} average={windAverage} members={windMembers} />
      <EnsemblePanel top={1200} title="10m windstoten" titleWidth={98} domain={[0, 20]} yTicks={[0, 2, 4, 6, 8, 10, 12, 14, 16, 18, 20]}
        control={gustControl} average={gustAverage} members={gustMembers} />
      <CloudPanel top={1500} />
    </div>
  );
}
